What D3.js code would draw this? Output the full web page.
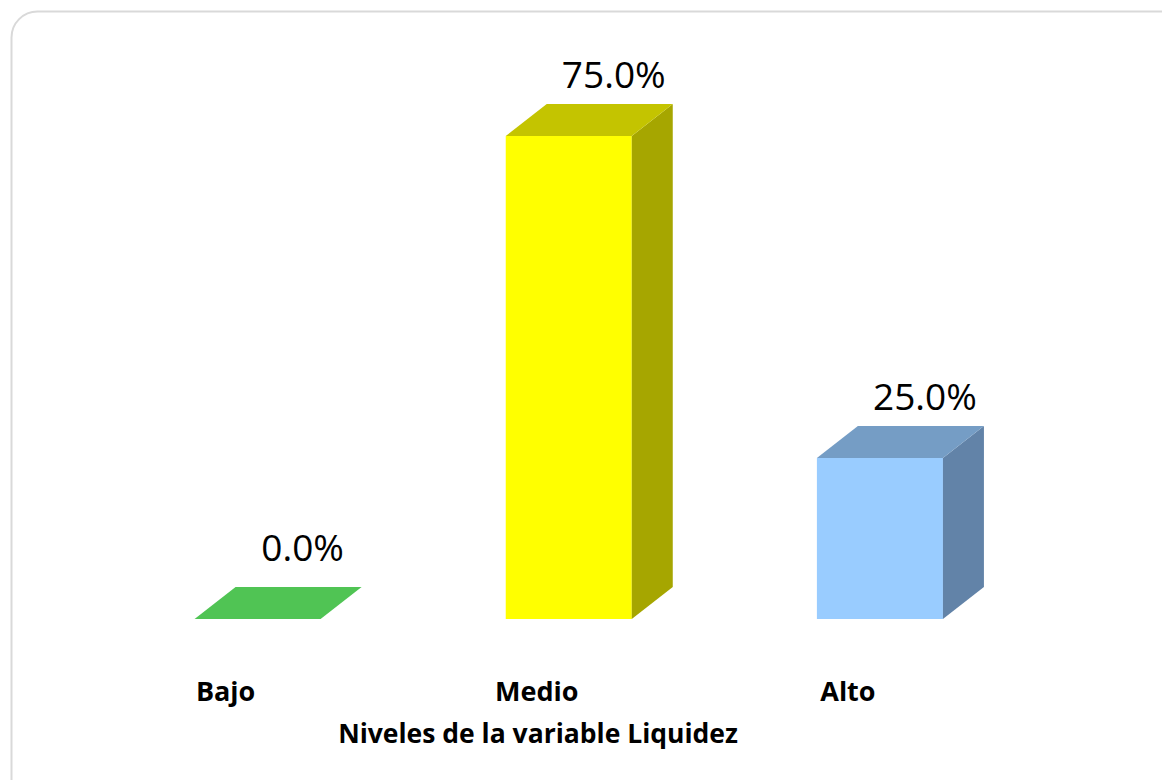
<!DOCTYPE html>
<html>
<head>
<meta charset="utf-8">
<script src="https://cdn.jsdelivr.net/npm/d3@7"></script>
<style>
  body { margin: 0; background: #fff; }
  svg { display: block; font-family: "Open Sans", sans-serif; }
</style>
</head>
<body>
<div id="chart"></div>
<script>
// Data
const categories = ["Bajo", "Medio", "Alto"];
const values = [0.0, 0.75, 0.25];
const valueLabels = ["0.0%", "75.0%", "25.0%"];
const axisTitle = "Niveles de la variable Liquidez";

// face colours: front, top, side
const colors = [
  { front: "#50C454", top: "#50C454", side: "#3F9E43" },
  { front: "#FFFF00", top: "#C4C400", side: "#A6A600" },
  { front: "#99CCFF", top: "#759DC5", side: "#6283A8" }
];

function createBarChart(selector) {
  const width = 1162;
  const height = 780;
  const depthX = 41;
  const depthY = 32;
  const baseY = 619;

  const svg = d3.select(selector)
    .append("svg")
    .attr("width", width)
    .attr("height", height);

  // chart area frame
  svg.append("rect")
    .attr("x", 11.5)
    .attr("y", 11.5)
    .attr("width", 1250)
    .attr("height", 850)
    .attr("rx", 26)
    .attr("fill", "#fff")
    .attr("stroke", "#d9d9d9")
    .attr("stroke-width", 2);

  const x = d3.scaleBand()
    .domain(categories)
    .range([102, 1035.5])
    .paddingInner(0.595)
    .paddingOuter(0.2975);

  const y = d3.scaleLinear()
    .domain([0, 1])
    .range([baseY, baseY - 644]);

  const bw = x.bandwidth();

  const bars = svg.append("g")
    .selectAll("g")
    .data(categories.map((c, i) => ({ c, v: values[i], label: valueLabels[i], col: colors[i] })))
    .join("g");

  // front face
  bars.filter(d => d.v > 0).append("rect")
    .attr("x", d => x(d.c))
    .attr("y", d => y(d.v))
    .attr("width", bw)
    .attr("height", d => y(0) - y(d.v))
    .attr("fill", d => d.col.front);

  // side face
  bars.filter(d => d.v > 0).append("polygon")
    .attr("points", d => {
      const x1 = x(d.c) + bw, yt = y(d.v), yb = y(0);
      return [[x1, yt], [x1 + depthX, yt - depthY], [x1 + depthX, yb - depthY], [x1, yb]].join(" ");
    })
    .attr("fill", d => d.col.side);

  // top face
  bars.append("polygon")
    .attr("points", d => {
      const x0 = x(d.c), yt = y(d.v);
      return [[x0, yt], [x0 + bw, yt], [x0 + bw + depthX, yt - depthY], [x0 + depthX, yt - depthY]].join(" ");
    })
    .attr("fill", d => d.col.top);

  // value labels
  bars.append("text")
    .attr("x", d => x(d.c) + bw / 2 + 45)
    .attr("y", d => y(d.v) - (d.v > 0 ? 48 : 58))
    .attr("text-anchor", "middle")
    .attr("font-size", 37)
    .attr("fill", "#000")
    .text(d => d.label);

  // category labels
  svg.append("g")
    .selectAll("text")
    .data(categories)
    .join("text")
    .attr("x", d => x(d) + bw / 2 - 32)
    .attr("y", 701)
    .attr("text-anchor", "middle")
    .attr("font-size", 27)
    .attr("font-weight", "bold")
    .attr("fill", "#000")
    .text(d => d);

  // axis title
  svg.append("text")
    .attr("x", 538)
    .attr("y", 743)
    .attr("text-anchor", "middle")
    .attr("font-size", 26.5)
    .attr("font-weight", "bold")
    .attr("fill", "#000")
    .text(axisTitle);
}

createBarChart("#chart");
</script>
</body>
</html>
